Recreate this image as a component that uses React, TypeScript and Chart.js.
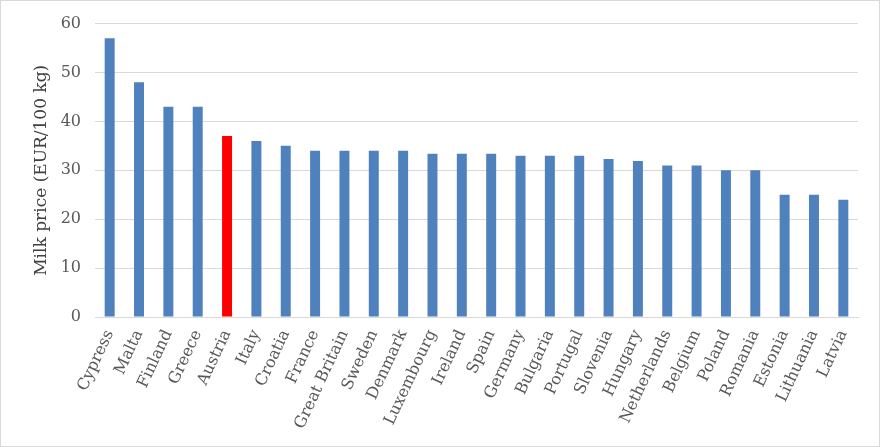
import React, { useEffect, useRef } from "react";
import { Chart, registerables } from "chart.js";

Chart.register(...registerables);

const countries = [
  "Cypress", "Malta", "Finland", "Greece", "Austria", "Italy", "Croatia", "France",
  "Great Britain", "Sweden", "Denmark", "Luxembourg", "Ireland", "Spain", "Germany",
  "Bulgaria", "Portugal", "Slovenia", "Hungary", "Netherlands", "Belgium", "Poland",
  "Romania", "Estonia", "Lithuania", "Latvia",
];
const prices = [
  57, 48, 43, 43, 37, 36, 35, 34, 34, 34, 34, 33.4, 33.4, 33.4, 33, 33, 33, 32.3,
  31.9, 31, 31, 30, 30, 25, 25, 24,
];
const highlighted = "Austria";
const yTicks = [0, 10, 20, 30, 40, 50, 60];
const yTitle = "Milk price (EUR/100 kg)";

const BLUE = "#4f81bd";
const RED = "#ff0000";
const GREY_TEXT = "#595959";
const GRID = "#d9d9d9";
const FONT = "'DejaVu Serif', serif";

export default function App() {
  const ref = useRef<HTMLCanvasElement | null>(null);
  useEffect(() => {
    document.body.style.margin = "0";
    document.body.style.background = "#ffffff";
    const canvas = ref.current;
    if (!canvas) return;
    const borderPlugin = {
      id: "outerBorder",
      afterDraw(chart: any) {
        const ctx = chart.ctx;
        ctx.save();
        ctx.strokeStyle = GRID;
        ctx.lineWidth = 1;
        ctx.strokeRect(0.5, 0.5, chart.width - 1, chart.height - 1);
        ctx.restore();
      },
    };
    const chart = new Chart(canvas, {
      type: "bar",
      data: {
        labels: countries,
        datasets: [
          {
            data: prices,
            backgroundColor: countries.map((c) => (c === highlighted ? RED : BLUE)),
            barPercentage: 0.34,
            categoryPercentage: 1,
          },
        ],
      },
      options: {
        animation: false,
        responsive: false,
        maintainAspectRatio: false,
        layout: { padding: { top: 23, right: 22, left: 0, bottom: 0 } },
        plugins: { legend: { display: false }, tooltip: { enabled: false } },
        scales: {
          x: {
            grid: { display: false },
            border: { display: true, color: GRID, width: 1 },
            ticks: {
              color: GREY_TEXT,
              font: { family: FONT, size: 16 },
              minRotation: 65,
              maxRotation: 65,
              autoSkip: false,
              padding: 2,
            },
            afterFit(scale: any) {
              scale.height = 447 - 317;
            },
          },
          y: {
            min: 0,
            max: 60,
            afterBuildTicks(scale: any) {
              scale.ticks = yTicks.map((v) => ({ value: v }));
            },
            grid: { color: GRID, drawTicks: false, lineWidth: 1 },
            border: { display: false },
            ticks: {
              color: GREY_TEXT,
              font: { family: FONT, size: 16 },
              padding: 14,
            },
            title: {
              display: true,
              text: yTitle,
              color: "#404040",
              font: { family: FONT, size: 17 },
              padding: { top: 31, bottom: 0 },
            },
            afterFit(scale: any) {
              scale.width = 95;
            },
          },
        },
      },
      plugins: [borderPlugin],
    });
    return () => chart.destroy();
  }, []);
  return <canvas ref={ref} width={880} height={447} style={{ display: "block" }} />;
}
